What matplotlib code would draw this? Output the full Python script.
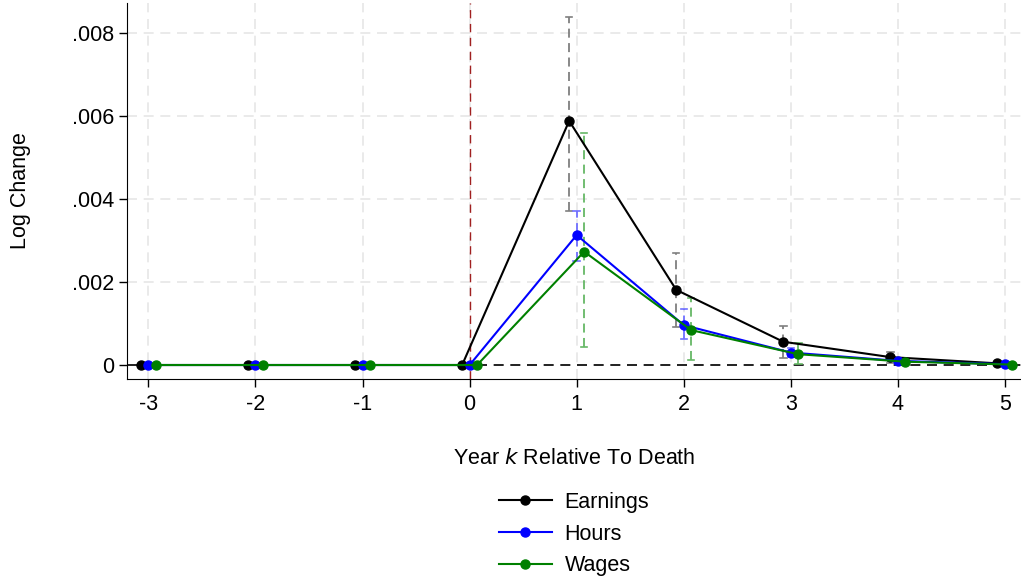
import numpy as np
import matplotlib.pyplot as plt

plt.rcParams['font.family'] = ['Liberation Sans', 'DejaVu Sans']

years = [-3, -2, -1, 0, 1, 2, 3, 4, 5]

earn = [0, 0, 0, 0, 0.00588, 0.00181, 0.00056, 0.00019, 0.00004]
earn_lo = [0, 0, 0, 0, 0.00371, 0.00091, 0.00018, 0.00006, 0.00001]
earn_hi = [0, 0, 0, 0, 0.00839, 0.00271, 0.00094, 0.00032, 0.00007]

hours = [0, 0, 0, 0, 0.00313, 0.00096, 0.00030, 0.00010, 0.00002]
hours_lo = [0, 0, 0, 0, 0.00250, 0.00063, 0.00020, 0.00006, 0.00001]
hours_hi = [0, 0, 0, 0, 0.00370, 0.00134, 0.00040, 0.00014, 0.00003]

wages = [0, 0, 0, 0, 0.00273, 0.00084, 0.00026, 0.00008, 0.00001]
wages_lo = [0, 0, 0, 0, 0.00044, 0.00012, 0.00002, 0.00002, 0.00000]
wages_hi = [0, 0, 0, 0, 0.00559, 0.00162, 0.00053, 0.00014, 0.00002]

series = [
    ('Earnings', earn, earn_lo, earn_hi, -0.07, 'black', '#7f7f7f'),
    ('Hours', hours, hours_lo, hours_hi, 0.0, '#0000ff', '#6f6fff'),
    ('Wages', wages, wages_lo, wages_hi, 0.07, '#008000', '#66b866'),
]

fig = plt.figure(figsize=(10.21, 5.82), dpi=100)
ax = fig.add_axes([127/1021, 1 - 379/582, 1 - 127/1021, (379 - 3)/582])

ax.grid(True, color='#e6e6e6', linestyle=(0, (6, 4)), linewidth=1.2)
ax.set_axisbelow(True)
ax.axvline(0, color='#a02020', linestyle=(0, (6, 4)), linewidth=1, zorder=1)
ax.axhline(0, color='black', linestyle=(0, (6, 4)), linewidth=1.2, zorder=1)

for name, v, lo, hi, off, col, ecol in series:
    x = np.array(years) + off
    for xi, l, h in zip(x, lo, hi):
        if h - l <= 0:
            continue
        ax.plot([xi, xi], [l, h], color=ecol, linestyle=(0, (5, 3)), linewidth=1.3, zorder=2)
        ax.plot([xi - 0.03, xi + 0.03], [h, h], color=ecol, linewidth=1.2, zorder=2)
        ax.plot([xi - 0.03, xi + 0.03], [l, l], color=ecol, linewidth=1.2, zorder=2)
for name, v, lo, hi, off, col, ecol in series:
    x = np.array(years) + off
    ax.plot(x, v, color=col, marker='o', markersize=6.5, linewidth=1.5, label=name, zorder=3)

ax.set_xlim(-3.2, 5.15)
ax.set_ylim(-0.000337, 0.00872)
ax.set_xticks(years)
ax.set_xticklabels([str(y) for y in years])
ax.set_yticks([0, 0.002, 0.004, 0.006, 0.008])
ax.set_yticklabels(['0', '.002', '.004', '.006', '.008'])
ax.tick_params(labelsize=15.5, length=6, width=1)
ax.tick_params(axis='x', pad=5)
for s in ['top', 'right']:
    ax.spines[s].set_visible(False)

ax.set_ylabel('Log Change', fontsize=15.5)
ax.yaxis.set_label_coords((31 - 127)/894, 0.5)
ax.set_xlabel('Year $k$ Relative To Death', fontsize=15.5, va='center')
ax.xaxis.set_label_coords(0.5, (379 - 458)/376)

leg = ax.legend(loc='center', bbox_to_anchor=(0.5, (379 - 534)/376), frameon=False,
                fontsize=15.5, handlelength=2.45, handletextpad=0.6, labelspacing=0.5)

fig.savefig('out.png', dpi=100)
